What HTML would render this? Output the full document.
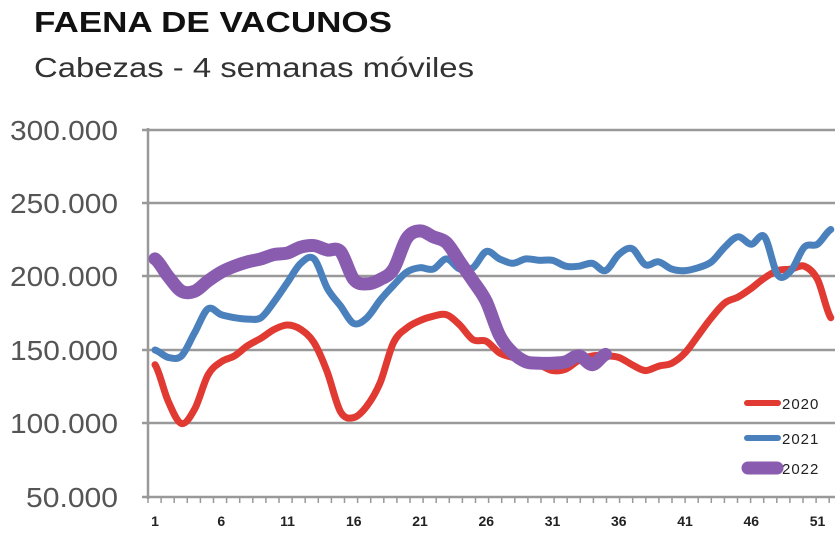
<!DOCTYPE html>
<html><head><meta charset="utf-8"><style>
html,body{margin:0;padding:0;background:#fff;width:840px;height:554px;overflow:hidden}
</style></head><body>
<svg id="s" width="840" height="554" xmlns="http://www.w3.org/2000/svg" font-family="Liberation Sans, DejaVu Sans, sans-serif">
<text x="34" y="32" font-size="29" font-weight="bold" fill="#111" textLength="358" lengthAdjust="spacingAndGlyphs">FAENA DE VACUNOS</text>
<text x="34" y="77" font-size="28" fill="#333" textLength="440" lengthAdjust="spacingAndGlyphs">Cabezas - 4 semanas móviles</text>
<g stroke="#999" stroke-width="2.5">
<line x1="142" y1="130" x2="835" y2="130"/>
<line x1="142" y1="203" x2="835" y2="203"/>
<line x1="142" y1="276" x2="835" y2="276"/>
<line x1="142" y1="350" x2="835" y2="350"/>
<line x1="142" y1="423" x2="835" y2="423"/>
<line x1="142" y1="497" x2="835" y2="497"/>
<line x1="148" y1="128" x2="148" y2="499"/>
</g>
<g id="ticks" stroke="#999" stroke-width="1.5"></g>
<g font-size="28" fill="#555" text-anchor="end">
<text x="118" y="140" textLength="108" lengthAdjust="spacingAndGlyphs">300.000</text>
<text x="118" y="213" textLength="108" lengthAdjust="spacingAndGlyphs">250.000</text>
<text x="118" y="286" textLength="108" lengthAdjust="spacingAndGlyphs">200.000</text>
<text x="118" y="360" textLength="108" lengthAdjust="spacingAndGlyphs">150.000</text>
<text x="118" y="433" textLength="108" lengthAdjust="spacingAndGlyphs">100.000</text>
<text x="118" y="507" textLength="92" lengthAdjust="spacingAndGlyphs">50.000</text>
</g>
<g id="xl" font-size="14" fill="#222" text-anchor="middle" font-weight="bold"></g>
<g id="lines" fill="none" stroke-linejoin="round" stroke-linecap="round"></g>
<line x1="747" y1="403" x2="778" y2="403" stroke="#e03a32" stroke-width="6" stroke-linecap="round"/>
<line x1="747" y1="438" x2="778" y2="438" stroke="#4a81bd" stroke-width="6" stroke-linecap="round"/>
<line x1="748" y1="468" x2="777" y2="468" stroke="#8a5cb0" stroke-width="13" stroke-linecap="round"/>
<g font-size="15" fill="#222" letter-spacing="1">
<text x="782" y="409">2020</text>
<text x="782" y="444">2021</text>
<text x="782" y="474">2022</text>
</g>
</svg>
<script>
var r=[140,115,100,110,133,142,146,153,158,164,167,164,155,135,108,104,112,128,155,165,170,173,174,167,157,156,148,145,143,140,136,137,143,146,146,145,140,136,139,141,148,160,172,182,186,192,199,204,205,207,198,172];
var b=[150,145,146,162,178,174,172,171,172,183,196,209,212,192,180,168,172,184,194,203,206,205,212,205,206,217,212,209,212,211,211,207,207,209,204,215,219,208,210,205,204,206,210,220,227,222,227,201,204,220,222,232];
var p=[212,200,190,190,197,203,207,210,212,215,216,220,221,218,217,198,195,198,205,226,231,227,223,210,197,183,160,148,142,141,141,142,146,140,147];
function X(i){return 155+i*13.25}
function Y(v){return 497-(v-50)*1.47}
function path(a){var s='M'+X(0)+','+Y(a[0]);for(var i=1;i<a.length;i++){var x0=X(i-1),y0=Y(a[i-1]),x1=X(i),y1=Y(a[i]);var ym=(i>1?Y(a[i-2]):y0),yn=(i<a.length-1?Y(a[i+1]):y1);var c1y=y0+(y1-ym)/6,c2y=y1-(yn-y0)/6;s+='C'+(x0+4.4).toFixed(1)+','+c1y.toFixed(1)+' '+(x1-4.4).toFixed(1)+','+c2y.toFixed(1)+' '+x1.toFixed(1)+','+y1.toFixed(1)}return s}
var ns='http://www.w3.org/2000/svg',g=document.getElementById('lines');
[[r,'#e03a32',7],[b,'#4a81bd',7],[p,'#8a5cb0',13]].forEach(function(d){var e=document.createElementNS(ns,'path');e.setAttribute('d',path(d[0]));e.setAttribute('stroke',d[1]);e.setAttribute('stroke-width',d[2]);g.appendChild(e)});
var t=document.getElementById('ticks'),xl=document.getElementById('xl');
for(var i=0;i<53;i++){var l=document.createElementNS(ns,'line');var x=148+i*13.1;l.setAttribute('x1',x);l.setAttribute('x2',x);l.setAttribute('y1',497);l.setAttribute('y2',503);t.appendChild(l)}
for(var k=0;k<11;k++){var w=1+5*k;var tx=document.createElementNS(ns,'text');tx.setAttribute('x',X(w-1));tx.setAttribute('y',526);tx.textContent=w;xl.appendChild(tx)}
</script>
</body></html>
